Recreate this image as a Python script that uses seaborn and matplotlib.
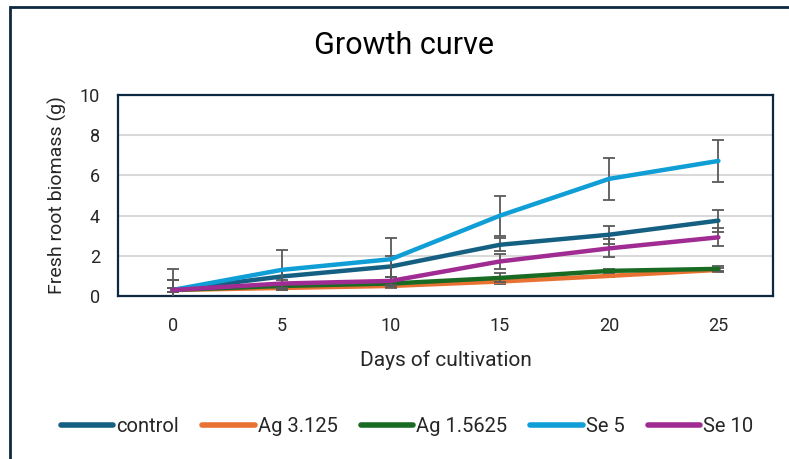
import numpy as np
import pandas as pd
import matplotlib
matplotlib.use("Agg")
import matplotlib.pyplot as plt
import seaborn as sns
from matplotlib.patches import Rectangle

# Data
days = [0, 5, 10, 15, 20, 25]
series_names = ["control", "Ag 3.125", "Ag 1.5625", "Se 5", "Se 10"]
control = [0.30, 0.97, 1.47, 2.55, 3.05, 3.75]
ag_3125 = [0.30, 0.40, 0.50, 0.72, 1.00, 1.30]
ag_15625 = [0.30, 0.50, 0.62, 0.90, 1.25, 1.35]
se_5 = [0.30, 1.30, 1.83, 4.00, 5.83, 6.72]
se_10 = [0.30, 0.62, 0.75, 1.72, 2.37, 2.92]

control_err = [0.50, 0.30, 0.52, 0.32, 0.45, 0.55]
ag_3125_err = [0.10, 0.10, 0.10, 0.10, 0.05, 0.10]
ag_15625_err = [0.10, 0.15, 0.15, 0.22, 0.10, 0.12]
se_5_err = [1.05, 1.00, 1.05, 1.00, 1.05, 1.05]
se_10_err = [0.50, 0.20, 0.22, 0.36, 0.45, 0.45]

COLORS = ["#156082", "#E97132", "#196B24", "#0F9ED5", "#A02B93"]
NAVY = "#0E2841"
TEXT = "#262626"

values = [control, ag_3125, ag_15625, se_5, se_10]
errors = [control_err, ag_3125_err, ag_15625_err, se_5_err, se_10_err]

df = pd.concat([
    pd.DataFrame({"pos": range(len(days)), "biomass": v, "err": e, "series": n})
    for n, v, e in zip(series_names, values, errors)
])

sns.set_style("white")
plt.rcParams["font.family"] = ["Roboto", "DejaVu Sans"]

fig = plt.figure(figsize=(7.89, 4.59), dpi=100)
ax = fig.add_axes([118 / 789, (459 - 296) / 459, 655 / 789, 201 / 459])

# outer chart border
fig.patches.append(Rectangle((10 / 789, -0.05), 1.1, (459 - 7) / 459 + 0.05,
                             transform=fig.transFigure, fill=False,
                             edgecolor=NAVY, linewidth=2, zorder=0))

for i, name in enumerate(series_names):
    sub = df[df.series == name]
    ax.errorbar(sub.pos, sub.biomass, yerr=sub.err, fmt="none", ecolor="#595959",
                elinewidth=1.3, capsize=4.5, capthick=1.3, zorder=2 + i * 2)
    sns.lineplot(data=sub, x="pos", y="biomass", color=COLORS[i], linewidth=3.2,
                 label=name, ax=ax, zorder=3 + i * 2, solid_capstyle="round")

ax.set_xlim(-0.5, 5.5)
ax.set_ylim(0, 10)
ax.set_xticks(range(len(days)))
ax.set_xticklabels([str(d) for d in days])
ax.set_yticks([0, 2, 4, 6, 8, 10])
ax.tick_params(axis="both", length=0, labelsize=13, labelcolor=TEXT)
ax.tick_params(axis="x", pad=15)
ax.tick_params(axis="y", pad=13)
ax.yaxis.grid(True, color="#D9D9D9", linewidth=1.5)
ax.set_axisbelow(True)
for s in ax.spines.values():
    s.set_color(NAVY)
    s.set_linewidth(1.6)

ax.set_xlabel("Days of cultivation", fontsize=15, color=TEXT, labelpad=11)
ax.set_ylabel("Fresh root biomass (g)", fontsize=14, color=TEXT, labelpad=9)
fig.text(404 / 789, 1 - 46 / 459, "Growth curve", ha="center", va="center",
         fontsize=22, color="#000000")

leg = ax.legend(loc="center", bbox_to_anchor=(407 / 789, 1 - 427 / 459),
                bbox_transform=fig.transFigure, ncol=5, frameon=False, fontsize=14.5,
                handlelength=2.6, handletextpad=0.15, columnspacing=1.15)
for h in leg.get_lines():
    h.set_linewidth(4)
for t in leg.get_texts():
    t.set_color(TEXT)

fig.savefig("out.png", dpi=100)
